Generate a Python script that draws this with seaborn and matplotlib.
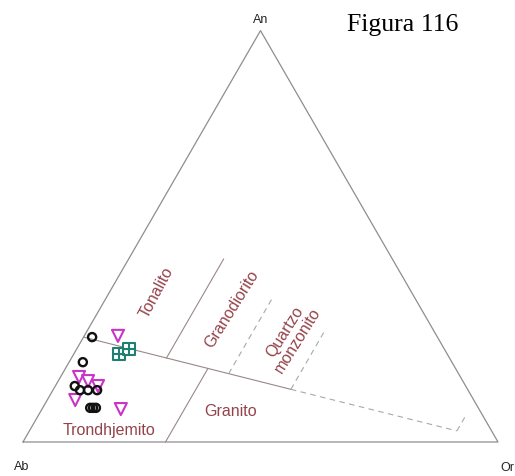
import numpy as np
import pandas as pd
import matplotlib
matplotlib.use("Agg")
import matplotlib.pyplot as plt
import seaborn as sns

sns.set_style("white")
plt.rcParams["font.family"] = ["Liberation Sans", "DejaVu Sans"]

# ---- sample compositions (normative An / Or, %) ----
circ_an = [25.5, 19.4, 13.6, 12.6, 12.6, 12.6, 8.3, 8.3, 8.3]
circ_or = [1.8, 2.9, 4.1, 5.7, 7.4, 9.3, 10.0, 10.6, 11.2]

tri_an = [25.8, 15.8, 14.8, 13.6, 10.2, 8.0]
tri_or = [7.1, 3.9, 6.3, 9.0, 5.9, 16.6]

sq_an = [21.4, 22.6]
sq_or = [9.5, 11.0]

# ---- field boundaries (An, Or) ----
solid_lines = [
    [(25.5, 0.0), (12.8, 50.0)],   # tonalite/trondhjemite and continuation
    [(20.4, 20.0), (44.5, 20.0)],  # tonalite / granodiorite
    [(17.9, 30.0), (0.0, 30.0)],   # trondhjemite / granite
]
dashed_lines = [
    [(12.8, 50.0), (2.7, 90.0)],
    [(2.7, 90.0), (6.1, 90.0)],
    [(16.6, 35.0), (35.0, 35.0)],
    [(12.8, 50.0), (27.5, 50.0)],
]

field_names = ["Tonalito", "Granodiorito", "Quartzo\nmonzonito", "Granito", "Trondhjemito"]
vertex_names = ["An", "Ab", "Or"]

SQ3 = np.sqrt(3) / 2


def tern(an, orr):
    an = np.asarray(an, dtype=float)
    orr = np.asarray(orr, dtype=float)
    return (orr + an / 2) / 100.0, an * SQ3 / 100.0


fig = plt.figure(figsize=(5.15, 4.77), dpi=100)
ax = fig.add_axes([0, 0, 1, 1])
ax.set_xlim(-0.0484, 1.0358)
ax.set_ylim(-0.0716, 0.9326)
ax.set_aspect("equal")
ax.axis("off")

# outer triangle
tx, ty = tern([0, 100, 0, 0], [0, 0, 100, 0])
ax.plot(tx, ty, color="#8e8e8e", lw=0.9, zorder=1)

for seg in solid_lines:
    (a1, o1), (a2, o2) = seg
    x, y = tern([a1, a2], [o1, o2])
    ax.plot(x, y, color="#9a8888", lw=0.8, zorder=1)
for seg in dashed_lines:
    (a1, o1), (a2, o2) = seg
    x, y = tern([a1, a2], [o1, o2])
    ax.plot(x, y, color="#a8a8a8", lw=0.8, ls=(0, (5, 4)), zorder=1)

# samples
def frame(an, orr, kind):
    x, y = tern(an, orr)
    return pd.DataFrame({"x": x, "y": y, "kind": kind})

d_tri = frame(tri_an, tri_or, "tri")
d_circ = frame(circ_an, circ_or, "circ")
d_sq = frame(sq_an, sq_or, "sq")

sns.scatterplot(data=d_tri, x="x", y="y", marker="v", s=75, facecolor="none",
                edgecolor="#c833c8", linewidth=1.5, ax=ax, zorder=3, legend=False)
sns.scatterplot(data=d_circ, x="x", y="y", marker="o", s=34, facecolor="none",
                edgecolor="#111111", linewidth=1.7, ax=ax, zorder=4, legend=False)
sns.scatterplot(data=d_sq, x="x", y="y", marker="s", s=70, facecolor="white",
                edgecolor="#1f7f72", linewidth=1.5, ax=ax, zorder=5, legend=False)
sns.scatterplot(data=d_sq, x="x", y="y", marker="+", s=70, color="#1f7f72",
                linewidth=1.5, ax=ax, zorder=6, legend=False)

# field labels
lab_col = "#94434a"
ax.text(0.2821, 0.3158, field_names[0], rotation=62, ha="center", va="center",
        fontsize=11.5, color=lab_col)
ax.text(0.440, 0.282, field_names[1], rotation=58, ha="center", va="center",
        fontsize=11.5, color=lab_col)
ax.text(0.5653, 0.2253, field_names[2], rotation=58, ha="center", va="center",
        fontsize=11.5, color=lab_col, multialignment="center", linespacing=1.0)
ax.text(0.438, 0.0653, field_names[3], ha="center", va="center",
        fontsize=11.5, color=lab_col)
ax.text(0.181, 0.0253, field_names[4], ha="center", va="center",
        fontsize=11.5, color=lab_col)

# vertex labels
ax.text(0.5, 0.8905, vertex_names[0], ha="center", va="center", fontsize=9, color="#222222")
ax.text(-0.002, -0.0505, vertex_names[1], ha="center", va="center", fontsize=9, color="#222222")
ax.text(1.019, -0.0526, vertex_names[2], ha="center", va="center", fontsize=9, color="#222222")

ax.text(0.80, 0.88, "Figura 116", ha="center", va="center", fontsize=18.5,
        family="Liberation Serif", color="black")

fig.savefig("out.png", dpi=100)
